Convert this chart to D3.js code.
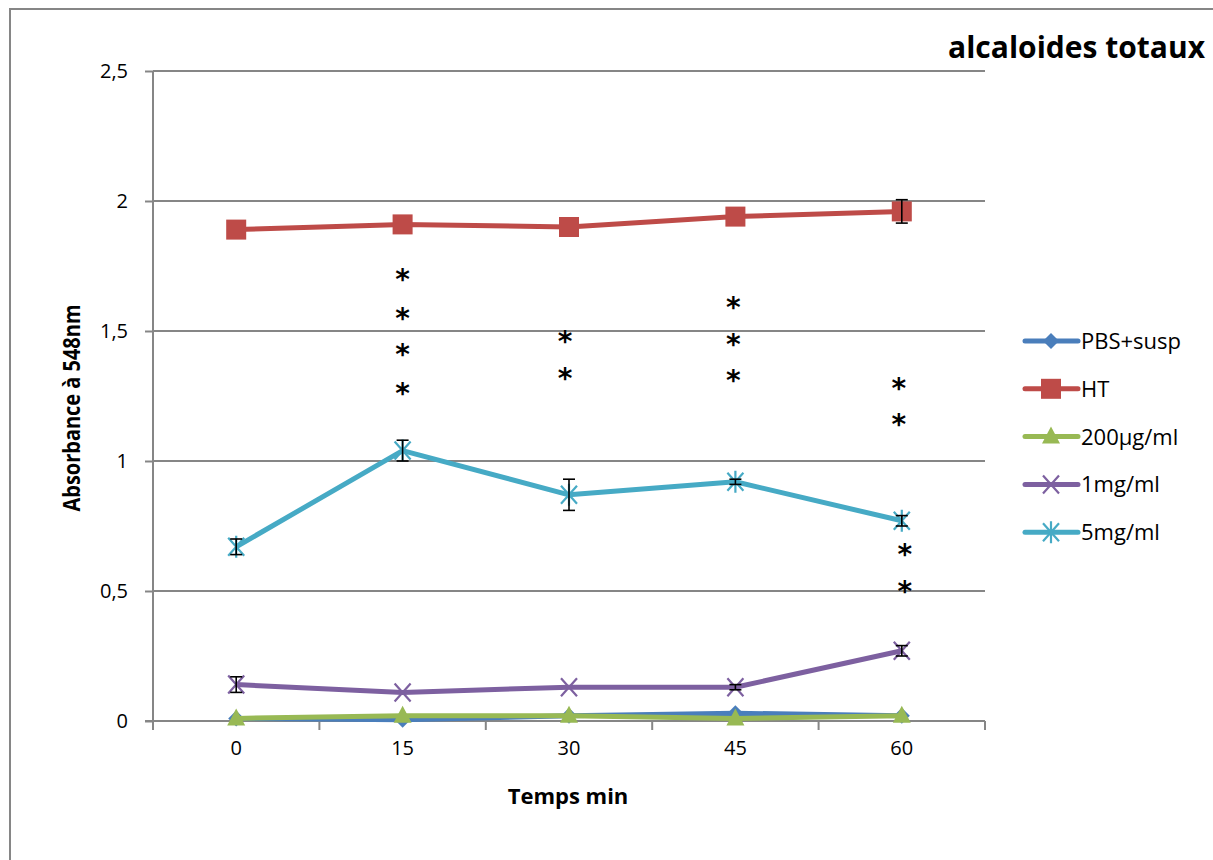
<!DOCTYPE html>
<html><head><meta charset="utf-8">
<script src="https://cdn.jsdelivr.net/npm/d3@7"></script>
<style>body{margin:0;background:#fff}svg{display:block}</style>
</head><body>
<svg id="c" width="1213" height="860"></svg>
<script>
const times = [0, 15, 30, 45, 60];
const yTicks = [0, 0.5, 1, 1.5, 2, 2.5];
const seriesNames = ["PBS+susp", "HT", "200µg/ml", "1mg/ml", "5mg/ml"];
const pbsValues = [0.01, 0.005, 0.02, 0.03, 0.02];
const htValues = [1.89, 1.91, 1.90, 1.94, 1.96];
const htErr = [0, 0, 0, 0, 0.045];
const lowValues = [0.01, 0.02, 0.02, 0.01, 0.02];
const midValues = [0.14, 0.11, 0.13, 0.13, 0.27];
const midErr = [0.03, 0, 0, 0.01, 0.02];
const highValues = [0.67, 1.04, 0.87, 0.92, 0.77];
const highErr = [0.03, 0.04, 0.06, 0.01, 0.02];
const starTimes = [15, 30, 45, 60, 60];
const starLevels = [[1.72, 1.57, 1.43, 1.28], [1.48, 1.34], [1.61, 1.47, 1.33], [1.30, 1.16], [0.66, 0.52]];
const starShift = [0, -4, -2, -3, 3];

const colors = ["#4a7ebb", "#be4b48", "#98b954", "#7d60a0", "#46aac5"];
const symbols = ["diamond", "square", "triangle", "x", "star"];
const series = [
  {name: seriesNames[0], values: pbsValues, err: null},
  {name: seriesNames[1], values: htValues, err: htErr},
  {name: seriesNames[2], values: lowValues, err: null},
  {name: seriesNames[3], values: midValues, err: midErr},
  {name: seriesNames[4], values: highValues, err: highErr}
];

const svg = d3.select("#c");
const L = 153, R = 985, T = 71, B = 721;
const x = d3.scaleBand().domain(times).range([L, R]);
const xc = t => x(t) + x.bandwidth() / 2;
const y = d3.scaleLinear().domain([0, 2.5]).range([B, T]);
const gray = "#868686";

// outer border
svg.append("path").attr("d", "M10,860 V9 H1213").attr("fill", "none").attr("stroke", gray).attr("stroke-width", 2);

// gridlines
svg.append("g").selectAll("line").data(yTicks.filter(d => d > 0)).join("line")
  .attr("x1", L).attr("x2", R).attr("y1", d => y(d)).attr("y2", d => y(d))
  .attr("stroke", gray).attr("stroke-width", 2);

// y axis
const fmt = d => String(d).replace(".", ",");
const yAxis = svg.append("g").attr("transform", `translate(${L},0)`)
  .call(d3.axisLeft(y).tickValues(yTicks).tickFormat(fmt).tickSize(8).tickPadding(17));
yAxis.select(".domain").attr("stroke", gray).attr("stroke-width", 2).attr("d", `M0,${T}V${B}`);
yAxis.selectAll(".tick line").attr("stroke", gray).attr("stroke-width", 2);
yAxis.selectAll("text").attr("font-family", "Open Sans, sans-serif").attr("font-size", 20).attr("fill", "#000");

// x axis
const xAxis = svg.append("g").attr("transform", `translate(0,${B})`)
  .call(d3.axisBottom(x).tickSize(0).tickPadding(20));
xAxis.select(".domain").attr("stroke", gray).attr("stroke-width", 2).attr("d", `M${L - 8},0H${R}`);
xAxis.selectAll("text").attr("font-family", "Open Sans, sans-serif").attr("font-size", 20).attr("fill", "#000");
// category separator ticks
const sepX = times.map(t => x(t)).concat([R]);
svg.append("g").selectAll("line").data(sepX).join("line")
  .attr("x1", d => d).attr("x2", d => d).attr("y1", B).attr("y2", B + 9)
  .attr("stroke", gray).attr("stroke-width", 2);

// axis titles
svg.append("text").attr("x", 568).attr("y", 804).attr("text-anchor", "middle")
  .attr("font-family", "Open Sans, sans-serif").attr("font-weight", "bold").attr("font-size", 22)
  .text("Temps min");
svg.append("text").attr("transform", "translate(80,408) rotate(-90)").attr("text-anchor", "middle")
  .attr("font-family", "Open Sans, sans-serif").attr("font-weight", "bold").attr("font-size", 23)
  .attr("textLength", 207).attr("lengthAdjust", "spacingAndGlyphs")
  .text("Absorbance à 548nm");

// title
svg.append("text").attr("x", 1205).attr("y", 58).attr("text-anchor", "end")
  .attr("font-family", "Open Sans, sans-serif").attr("font-weight", "bold").attr("font-size", 30)
  .text("alcaloides totaux");

// marker drawing
function drawMarker(g, sym, color) {
  if (sym === "diamond") g.append("path").attr("d", "M0,-8L8,0L0,8L-8,0Z").attr("fill", color);
  else if (sym === "square") g.append("rect").attr("x", -10).attr("y", -10).attr("width", 20).attr("height", 20).attr("fill", color);
  else if (sym === "triangle") g.append("path").attr("d", "M0,-10L9,7L-9,7Z").attr("fill", color);
  else if (sym === "x") g.append("path").attr("d", "M-8,-9L8,9M-8,9L8,-9").attr("stroke", color).attr("stroke-width", 2.2);
  else if (sym === "star") g.append("path").attr("d", "M-8,-9L8,9M-8,9L8,-9M0,-11V11").attr("stroke", color).attr("stroke-width", 2.2);
}

const line = d3.line().x((d, i) => xc(times[i])).y(d => y(d));
const order = [3, 4, 1, 0, 2];
order.forEach(si => {
  const s = series[si];
  const g = svg.append("g");
  g.append("path").attr("d", line(s.values)).attr("fill", "none")
    .attr("stroke", colors[si]).attr("stroke-width", 5).attr("stroke-linejoin", "round");
  s.values.forEach((v, i) => {
    const m = g.append("g").attr("transform", `translate(${xc(times[i])},${y(v)})`);
    drawMarker(m, symbols[si], colors[si]);
  });
  if (s.err) {
    s.values.forEach((v, i) => {
      const e = s.err[i];
      if (!e) return;
      const cx = xc(times[i]);
      const eg = g.append("g").attr("stroke", "#000").attr("stroke-width", 1.6);
      eg.append("line").attr("x1", cx).attr("x2", cx).attr("y1", y(v - e)).attr("y2", y(v + e));
      eg.append("line").attr("x1", cx - 6).attr("x2", cx + 6).attr("y1", y(v - e)).attr("y2", y(v - e));
      eg.append("line").attr("x1", cx - 6).attr("x2", cx + 6).attr("y1", y(v + e)).attr("y2", y(v + e));
    });
  }
});

// significance stars
starTimes.forEach((t, gi) => {
  svg.append("g").selectAll("text").data(starLevels[gi]).join("text")
    .attr("x", xc(t) + starShift[gi]).attr("y", d => y(d) + 15)
    .attr("text-anchor", "middle").attr("font-family", "DejaVu Sans, sans-serif")
    .attr("font-weight", "bold").attr("font-size", 28)
    .text("*");
});

// legend
const lg = svg.append("g");
seriesNames.forEach((n, i) => {
  const yy = 341 + i * 47.8;
  const r = lg.append("g").attr("transform", `translate(0,${yy})`);
  r.append("line").attr("x1", 1025).attr("x2", 1078).attr("y1", 0).attr("y2", 0)
    .attr("stroke", colors[i]).attr("stroke-width", 5).attr("stroke-linecap", "round");
  const m = r.append("g").attr("transform", "translate(1051,0)");
  drawMarker(m, symbols[i], colors[i]);
  r.append("text").attr("x", 1081).attr("y", 8).attr("font-family", "Open Sans, sans-serif")
    .attr("font-size", 22).text(n);
});
</script>
</body></html>
